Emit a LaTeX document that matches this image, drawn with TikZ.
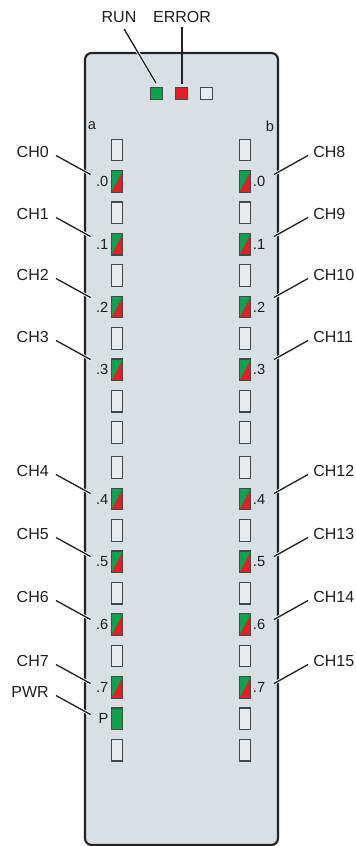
\documentclass[tikz,border=0pt]{standalone}
\usepackage{fontspec}
\setmainfont{Liberation Sans}
\definecolor{PanelColor}{RGB}{217,223,226}
\definecolor{EdgeColor}{RGB}{35,35,38}
\definecolor{LedEdge}{RGB}{70,72,74}
\definecolor{LedGreen}{RGB}{12,163,78}
\definecolor{LedRed}{RGB}{228,30,38}
\definecolor{TextColor}{RGB}{30,30,30}
\usetikzlibrary{positioning}
\tikzset{
  led/.style={draw=LedEdge, line width=0.95pt, inner sep=0pt, minimum width=8.6pt, minimum height=16.2pt},
  ledoff/.style={led, fill=PanelColor!60!white},
  ledgreen/.style={led, fill=LedGreen},
  ledsplit/.style={led, fill=LedRed, path picture={
    \fill[LedGreen] (path picture bounding box.north west) -- (path picture bounding box.north east) -- (path picture bounding box.south west) -- cycle;}},
  topled/.style={minimum width=9.2pt, minimum height=9.2pt},
  callout/.style={font=\fontsize{12}{14}\selectfont, text=TextColor, inner sep=0pt},
  ledtext/.style={font=\fontsize{11}{13}\selectfont, text=TextColor, inner sep=0pt},
  lead/.style={line width=1pt, EdgeColor, preaction={draw=white, line width=2.2pt}}
}
\begin{document}
\begin{tikzpicture}[x=0.75pt, y=-0.75pt]
  \useasboundingbox (0,0) rectangle (356,846);

  % Module housing
  \draw[line width=1.6pt, EdgeColor, fill=PanelColor, rounded corners=5pt] (85,53) rectangle (278,845);

  % Status LEDs
  \node[ledgreen, topled] (ledRun) at (156.5,93.5) {};
  \node[ledoff, topled, fill=LedRed] (ledError) at (181.5,93.5) {};
  \node[ledoff, topled] (ledSpare) at (206.5,93.5) {};
  \node[callout] (lblRun) at (119,17) {RUN};
  \node[callout] (lblError) at (182,17) {ERROR};
  \coordinate (tipRun) at (156,83);
  \coordinate (tipError) at (182,84);
  \draw[lead] ([shift={(5,6)}]lblRun.south) -- (tipRun);
  \draw[lead] ([shift={(0,4)}]lblError.south) -- (tipError);

  % Column letters
  \node[ledtext] (lblA) at (92,126) {a};
  \node[ledtext] (lblB) at (270,126) {b};

  % Column a
  \foreach \row/\ledkind in {0/ledoff,1/ledsplit,2/ledoff,3/ledsplit,4/ledoff,5/ledsplit,6/ledoff,7/ledsplit,8/ledoff,9/ledoff,10/ledoff,11/ledsplit,12/ledoff,13/ledsplit,14/ledoff,15/ledsplit,16/ledoff,17/ledsplit,18/ledgreen,19/ledoff} {
    \pgfmathsetmacro\ledy{150+31.4*\row+(\row>9)*3.6}
    \node[\ledkind] (ledA\row) at (117,\ledy) {};
  }

  % Column b
  \foreach \row/\ledkind in {0/ledoff,1/ledsplit,2/ledoff,3/ledsplit,4/ledoff,5/ledsplit,6/ledoff,7/ledsplit,8/ledoff,9/ledoff,10/ledoff,11/ledsplit,12/ledoff,13/ledsplit,14/ledoff,15/ledsplit,16/ledoff,17/ledsplit,18/ledoff,19/ledoff} {
    \pgfmathsetmacro\ledy{150+31.4*\row+(\row>9)*3.6}
    \node[\ledkind] (ledB\row) at (245,\ledy) {};
  }

  % LED numbers
  \foreach \row/\ledname in {1/.0,3/.1,5/.2,7/.3,11/.4,13/.5,15/.6,17/.7,18/P}
    \node[ledtext, left=1.5pt of ledA\row] (numA\row) {\ledname};
  \foreach \row/\ledname in {1/.0,3/.1,5/.2,7/.3,11/.4,13/.5,15/.6,17/.7}
    \node[ledtext, right=1pt of ledB\row] (numB\row) {\ledname};

  % Channel callouts, left
  \foreach \chname/\laby in {CH0/152,CH1/214,CH2/275,CH3/337,CH4/471,CH5/534,CH6/597,CH7/661,PWR/692} {
    \node[callout, anchor=east] (lbl\chname) at (49,\laby) {\chname};
    \coordinate (tip\chname) at (90.5,\laby+22.5);
    \draw[lead] ([shift={(7,3.5)}]lbl\chname.east) -- (tip\chname);
  }

  % Channel callouts, right
  \foreach \chname/\laby in {CH8/152,CH9/214,CH10/275,CH11/337,CH12/471,CH13/534,CH14/597,CH15/661} {
    \node[callout, anchor=west] (lbl\chname) at (313,\laby) {\chname};
    \coordinate (tip\chname) at (274,\laby+22.5);
    \draw[lead] ([shift={(-5,3.5)}]lbl\chname.west) -- (tip\chname);
  }
\end{tikzpicture}
\end{document}
